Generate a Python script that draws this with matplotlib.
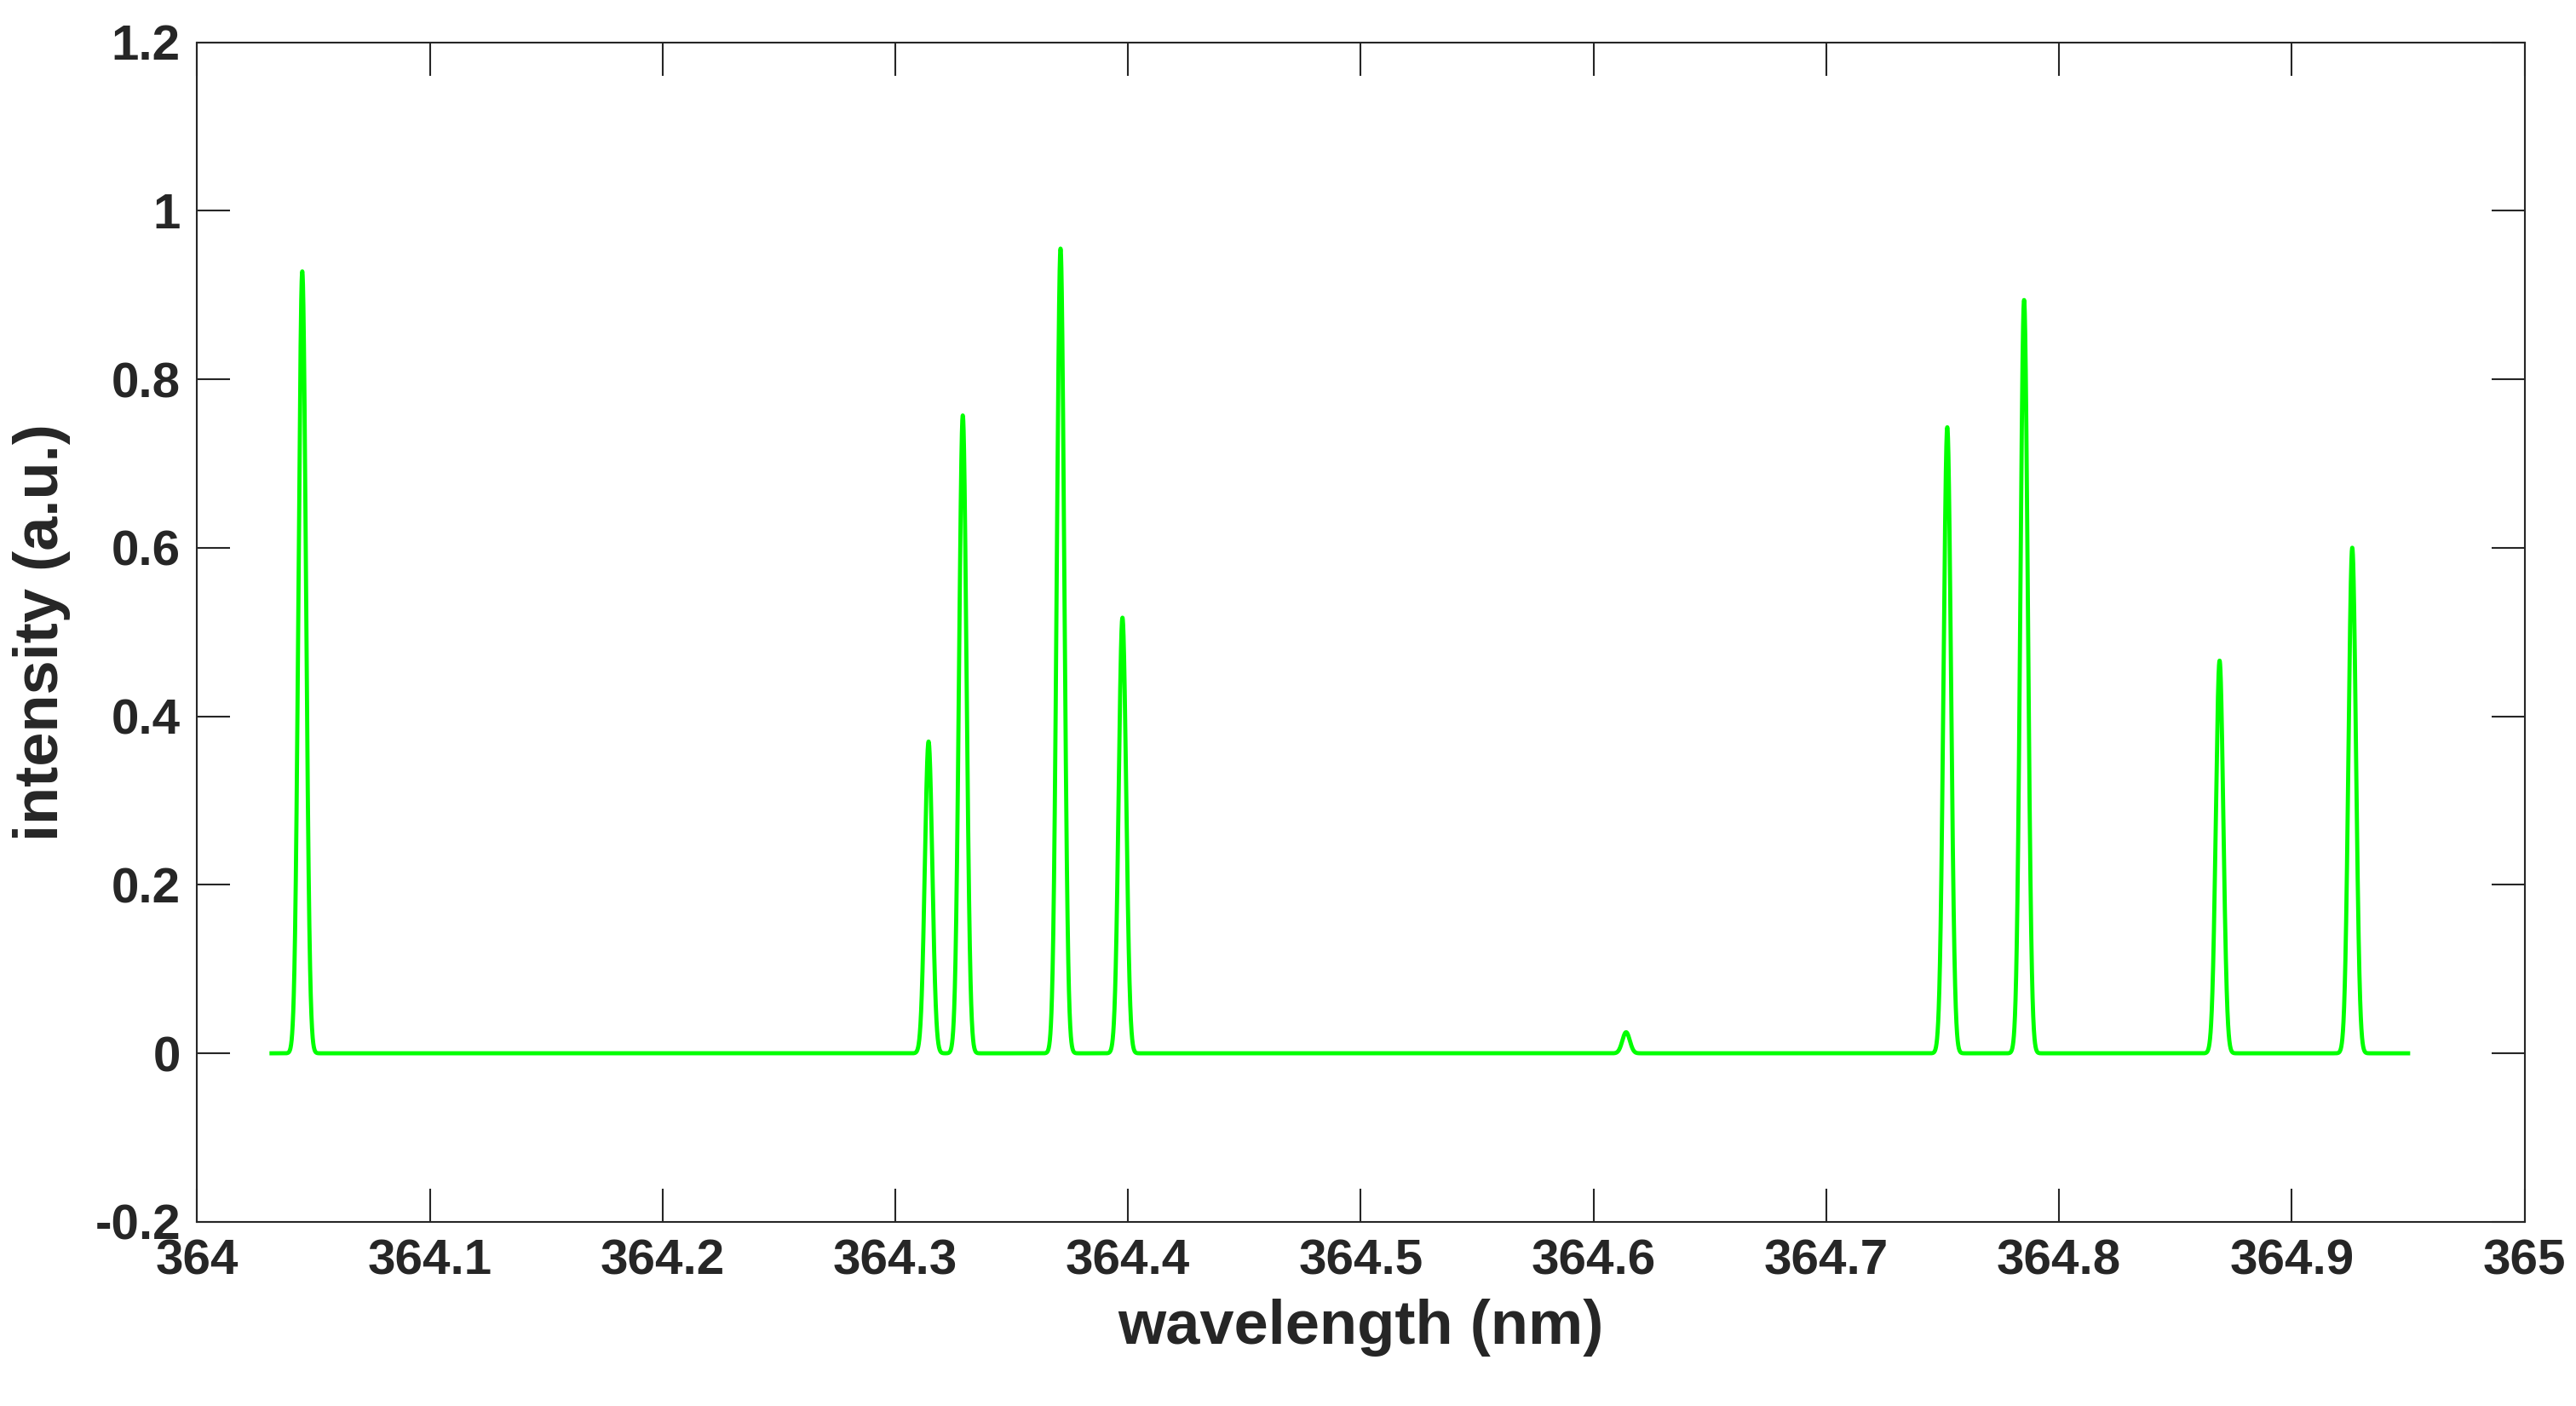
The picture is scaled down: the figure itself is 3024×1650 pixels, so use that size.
import numpy as np
import matplotlib.pyplot as plt

plt.rcParams['font.family'] = ['Liberation Sans', 'DejaVu Sans']
plt.rcParams['font.weight'] = 'bold'

# peak list
peak_center = [364.0452, 364.3143, 364.3290, 364.3710, 364.3976,
               364.6140, 364.7520, 364.7850, 364.8690, 364.9260]
peak_height = [0.928, 0.370, 0.757, 0.955, 0.517,
               0.025, 0.743, 0.894, 0.466, 0.600]
peak_sigma = 0.0016
wl_start, wl_end = 364.032, 364.95

wl = np.linspace(wl_start, wl_end, 20000)
intensity = np.zeros_like(wl)
for c, h in zip(peak_center, peak_height):
    intensity += h * np.exp(-0.5 * ((wl - c) / peak_sigma) ** 2)

fig = plt.figure(figsize=(30.24, 16.5), dpi=100)
ax = fig.add_axes([0.0765, 0.131, 0.9035, 0.839])
ax.plot(wl, intensity, color='#00ff00', lw=3.5)

ax.set_xlim(364, 365)
ax.set_ylim(-0.2, 1.2)
ax.set_xticks(np.arange(364, 365.01, 0.1))
ax.set_xticklabels(['364', '364.1', '364.2', '364.3', '364.4', '364.5',
                    '364.6', '364.7', '364.8', '364.9', '365'])
ax.set_yticks(np.arange(-0.2, 1.21, 0.2))
ax.set_yticklabels(['-0.2', '0', '0.2', '0.4', '0.6', '0.8', '1', '1.2'])
ax.tick_params(direction='in', top=True, right=True, length=28, width=1.5,
               labelsize=42, colors='#262626', pad=14)
for s in ax.spines.values():
    s.set_linewidth(1.5)
    s.set_color('#262626')
ax.set_xlabel('wavelength (nm)', fontsize=52, fontweight='bold', color='#262626',
              labelpad=12)
ax.set_ylabel('intensity (a.u.)', fontsize=52, fontweight='bold', color='#262626',
              labelpad=20)

fig.savefig('out.png', dpi=100)
